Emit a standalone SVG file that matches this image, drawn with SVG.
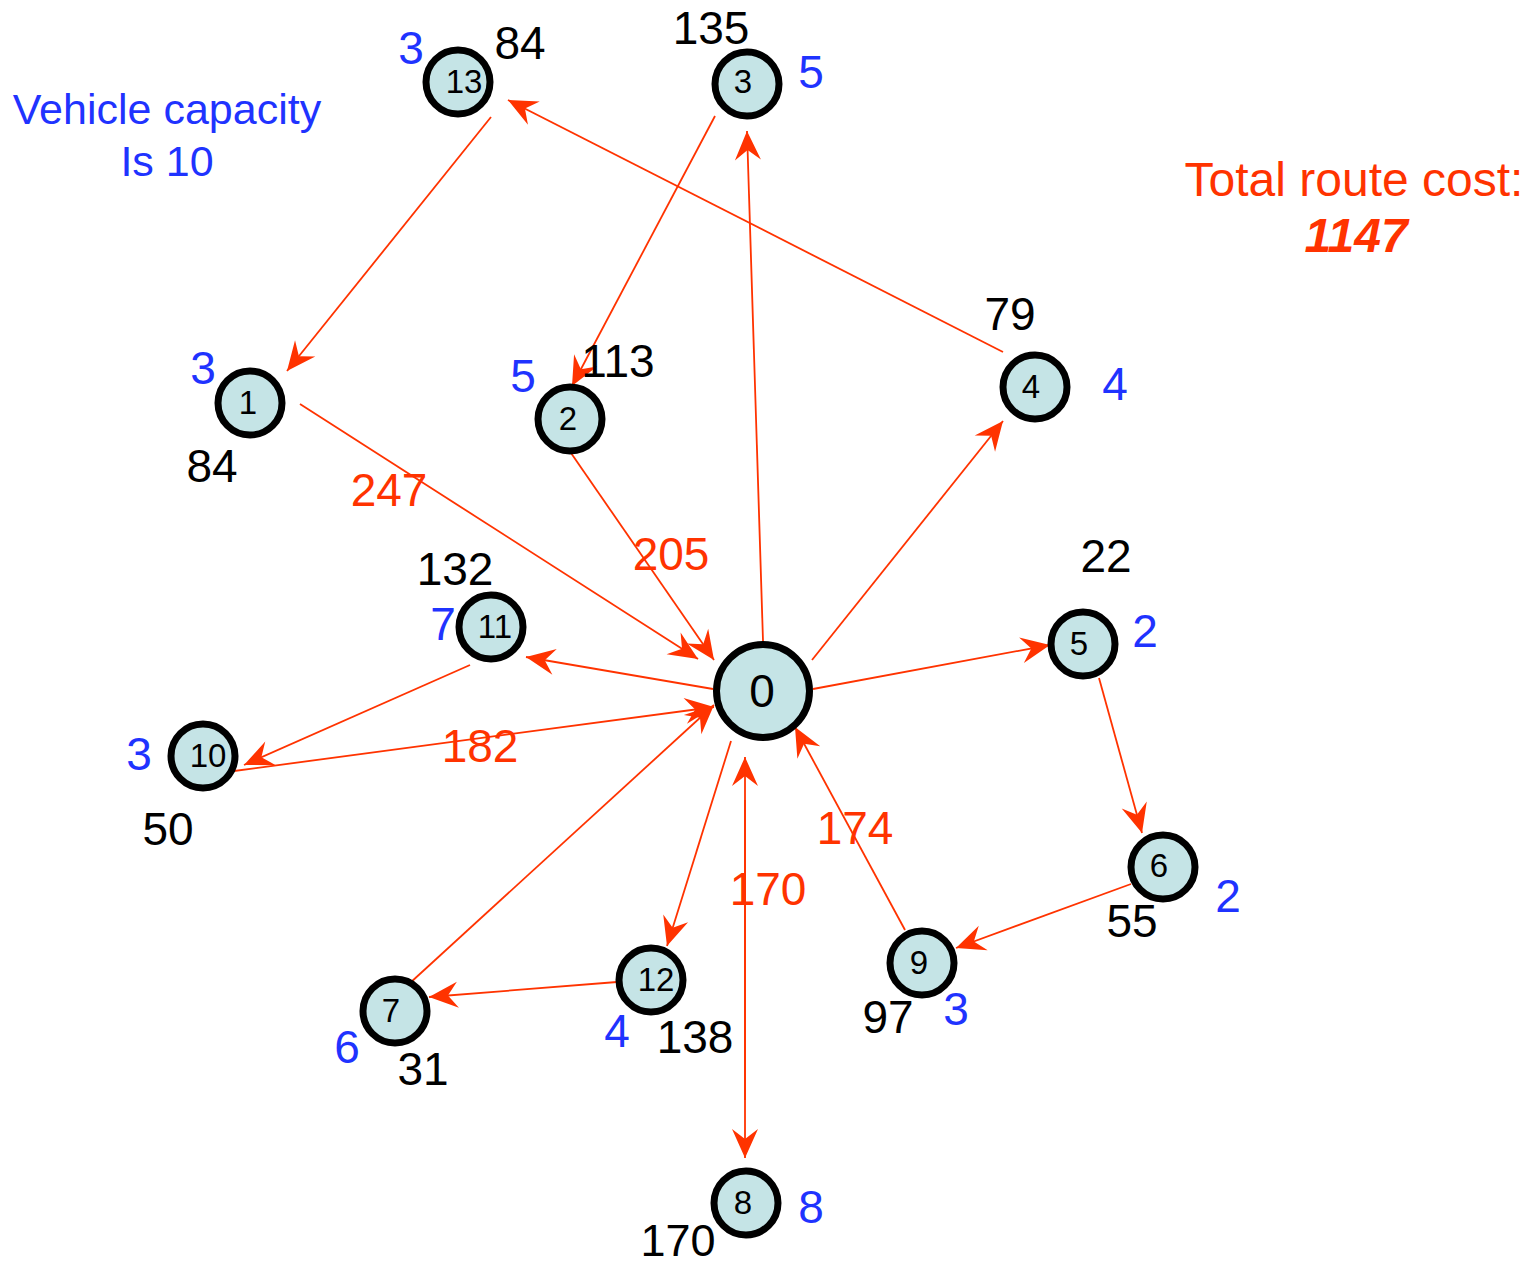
<svg xmlns="http://www.w3.org/2000/svg" width="1534" height="1266" viewBox="0 0 1534 1266">
<style>
.e{stroke:#ff3300;stroke-width:1.8;fill:none;marker-end:url(#ah)}
.n circle{fill:#c5e4e6;stroke:#000;stroke-width:7}
.n text{font-family:"Liberation Sans",Arial,sans-serif;font-size:33px;text-anchor:middle;fill:#000}
.t{font-family:"Liberation Sans",Arial,sans-serif;font-size:46px;text-anchor:middle}
.k{fill:#000}
.b{fill:#1f33ff}
.r{fill:#ff3300}
</style>
<defs>
<marker id="ah" markerUnits="userSpaceOnUse" markerWidth="32" markerHeight="30" viewBox="-30 -15 32 30" refX="0" refY="0" orient="auto">
<path d="M0,0 L-29,-13 L-19,0 L-29,13 Z" fill="#ff3300"/>
</marker>
</defs>
<rect width="1534" height="1266" fill="#fff"/>
<g id="connectors">
<line class="e" x1="763" y1="641" x2="747" y2="131"/>
<line class="e" x1="715" y1="116" x2="572" y2="386"/>
<line class="e" x1="571" y1="453" x2="714" y2="660"/>
<line class="e" x1="300" y1="404" x2="698" y2="659"/>
<line class="e" x1="812" y1="660" x2="1003" y2="421"/>
<line class="e" x1="1003" y1="352" x2="508" y2="100"/>
<line class="e" x1="491" y1="117" x2="287" y2="371"/>
<line class="e" x1="813" y1="689" x2="1050" y2="645"/>
<line class="e" x1="1099" y1="678" x2="1142" y2="833"/>
<line class="e" x1="1131" y1="884" x2="956" y2="948"/>
<line class="e" x1="905" y1="930" x2="795" y2="727"/>
<line class="e" x1="731" y1="741" x2="667" y2="946"/>
<line class="e" x1="617" y1="982" x2="429" y2="997"/>
<line class="e" x1="410" y1="983" x2="714" y2="705"/>
<line class="e" x1="745" y1="800" x2="745" y2="1158"/>
<line class="e" x1="745" y1="1100" x2="745" y2="757"/>
<line class="e" x1="713" y1="689" x2="526" y2="657"/>
<line class="e" x1="470" y1="665" x2="244" y2="765"/>
<line class="e" x1="234" y1="771" x2="714" y2="707"/>
</g>
<g id="node0" class="n"><circle cx="763" cy="691" r="46.5" stroke-width="8"/><text x="762" y="707" style="font-size:46px">0</text></g>
<g id="node1" class="n"><circle cx="250" cy="403" r="32"/><text x="248" y="414">1</text></g>
<g id="node2" class="n"><circle cx="570" cy="419" r="32"/><text x="568" y="430">2</text></g>
<g id="node3" class="n"><circle cx="747" cy="84" r="32"/><text x="743" y="93">3</text></g>
<g id="node4" class="n"><circle cx="1035" cy="387" r="32"/><text x="1031" y="398">4</text></g>
<g id="node5" class="n"><circle cx="1083" cy="644" r="32"/><text x="1079" y="655">5</text></g>
<g id="node6" class="n"><circle cx="1163" cy="867" r="32"/><text x="1159" y="877">6</text></g>
<g id="node7" class="n"><circle cx="395" cy="1011" r="32"/><text x="391" y="1022">7</text></g>
<g id="node8" class="n"><circle cx="746" cy="1203" r="32"/><text x="743" y="1214">8</text></g>
<g id="node9" class="n"><circle cx="922" cy="963" r="32"/><text x="919" y="974">9</text></g>
<g id="node10" class="n"><circle cx="203" cy="756" r="32"/><text x="208" y="767">10</text></g>
<g id="node11" class="n"><circle cx="491" cy="627" r="32"/><text x="495" y="638">11</text></g>
<g id="node12" class="n"><circle cx="651" cy="980" r="32"/><text x="656" y="991">12</text></g>
<g id="node13" class="n"><circle cx="458" cy="82" r="32"/><text x="464" y="93">13</text></g>
<g id="labels">
<text class="t k" x="520" y="59">84</text>
<text class="t k" x="711" y="44">135</text>
<text class="t b" x="411" y="64">3</text>
<text class="t b" x="811" y="88">5</text>
<text class="t b" x="203" y="384">3</text>
<text class="t k" x="212" y="482">84</text>
<text class="t b" x="523" y="392">5</text>
<text class="t k" x="618" y="377">113</text>
<text class="t k" x="1010" y="330">79</text>
<text class="t b" x="1115" y="400">4</text>
<text class="t k" x="1106" y="572">22</text>
<text class="t b" x="1145" y="647">2</text>
<text class="t k" x="455" y="585">132</text>
<text class="t b" x="443" y="640">7</text>
<text class="t b" x="139" y="770">3</text>
<text class="t k" x="168" y="845">50</text>
<text class="t k" x="1132" y="937">55</text>
<text class="t b" x="1228" y="912">2</text>
<text class="t k" x="888" y="1033">97</text>
<text class="t b" x="956" y="1025">3</text>
<text class="t b" x="617" y="1047">4</text>
<text class="t k" x="695" y="1053">138</text>
<text class="t b" x="347" y="1063">6</text>
<text class="t k" x="423" y="1085">31</text>
<text class="t b" x="811" y="1223">8</text>
<text class="t k" x="678" y="1256" style="font-size:45px">170</text>
<text class="t r" x="389" y="506">247</text>
<text class="t r" x="671" y="570">205</text>
<text class="t r" x="480" y="762">182</text>
<text class="t r" x="855" y="844">174</text>
<text class="t r" x="768" y="905">170</text>
<text class="t b" x="167" y="124" style="font-size:43px">Vehicle capacity</text>
<text class="t b" x="167" y="176" style="font-size:43px">Is 10</text>
<text class="t r" x="1354" y="196" style="font-size:48px">Total route cost:</text>
<text class="t r" x="1356" y="252" style="font-size:48px;font-weight:bold;font-style:italic">1147</text>
</g>
</svg>
